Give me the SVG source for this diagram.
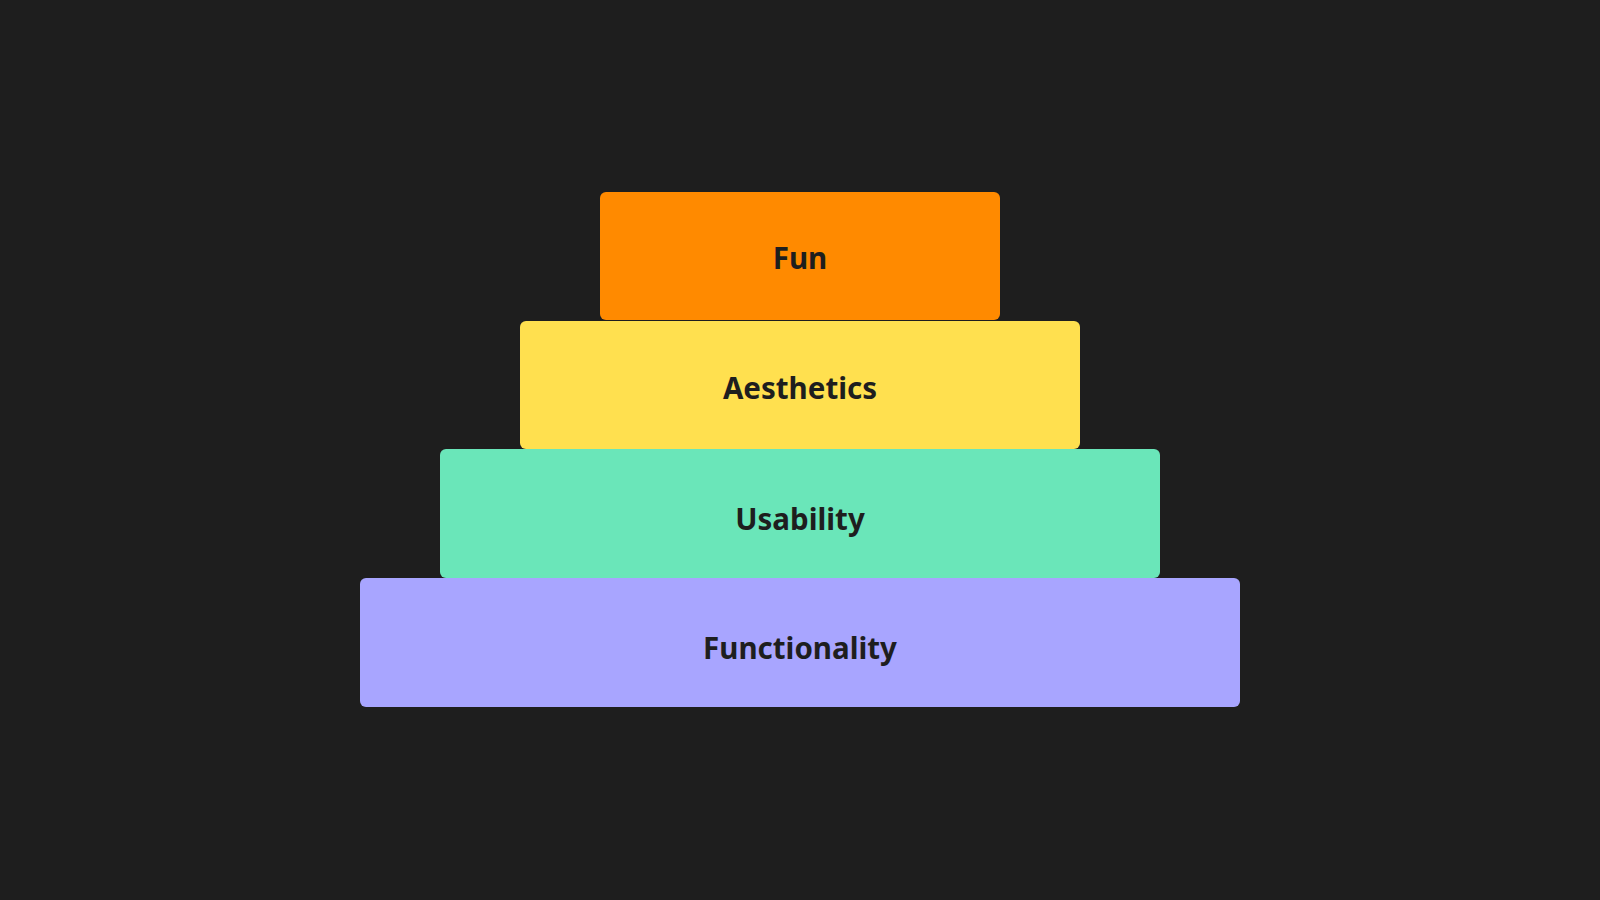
<svg xmlns="http://www.w3.org/2000/svg" width="1600" height="900" viewBox="0 0 1600 900">
<style>
.lbl{font-family:"Noto Sans","Open Sans","Liberation Sans",sans-serif;font-weight:700;font-size:29.5px;fill:#1e1e1e;text-anchor:middle}
</style>
<rect x="0" y="0" width="1600" height="900" fill="#1e1e1e"/>
<g id="connectors"></g>
<g id="functionality">
<rect x="360" y="578" width="880" height="129" rx="6" fill="#a8a5ff"/>
<text class="lbl" x="800" y="659">Functionality</text>
</g>
<g id="usability">
<rect x="440" y="449" width="720" height="129" rx="6" fill="#6ae6b9"/>
<text class="lbl" x="800" y="530">Usability</text>
</g>
<g id="aesthetics">
<rect x="520" y="321" width="560" height="128" rx="6" fill="#ffe04f"/>
<text class="lbl" x="800" y="399">Aesthetics</text>
</g>
<g id="fun">
<rect x="600" y="192" width="400" height="128" rx="6" fill="#ff8a00"/>
<text class="lbl" x="800" y="269">Fun</text>
</g>
</svg>
